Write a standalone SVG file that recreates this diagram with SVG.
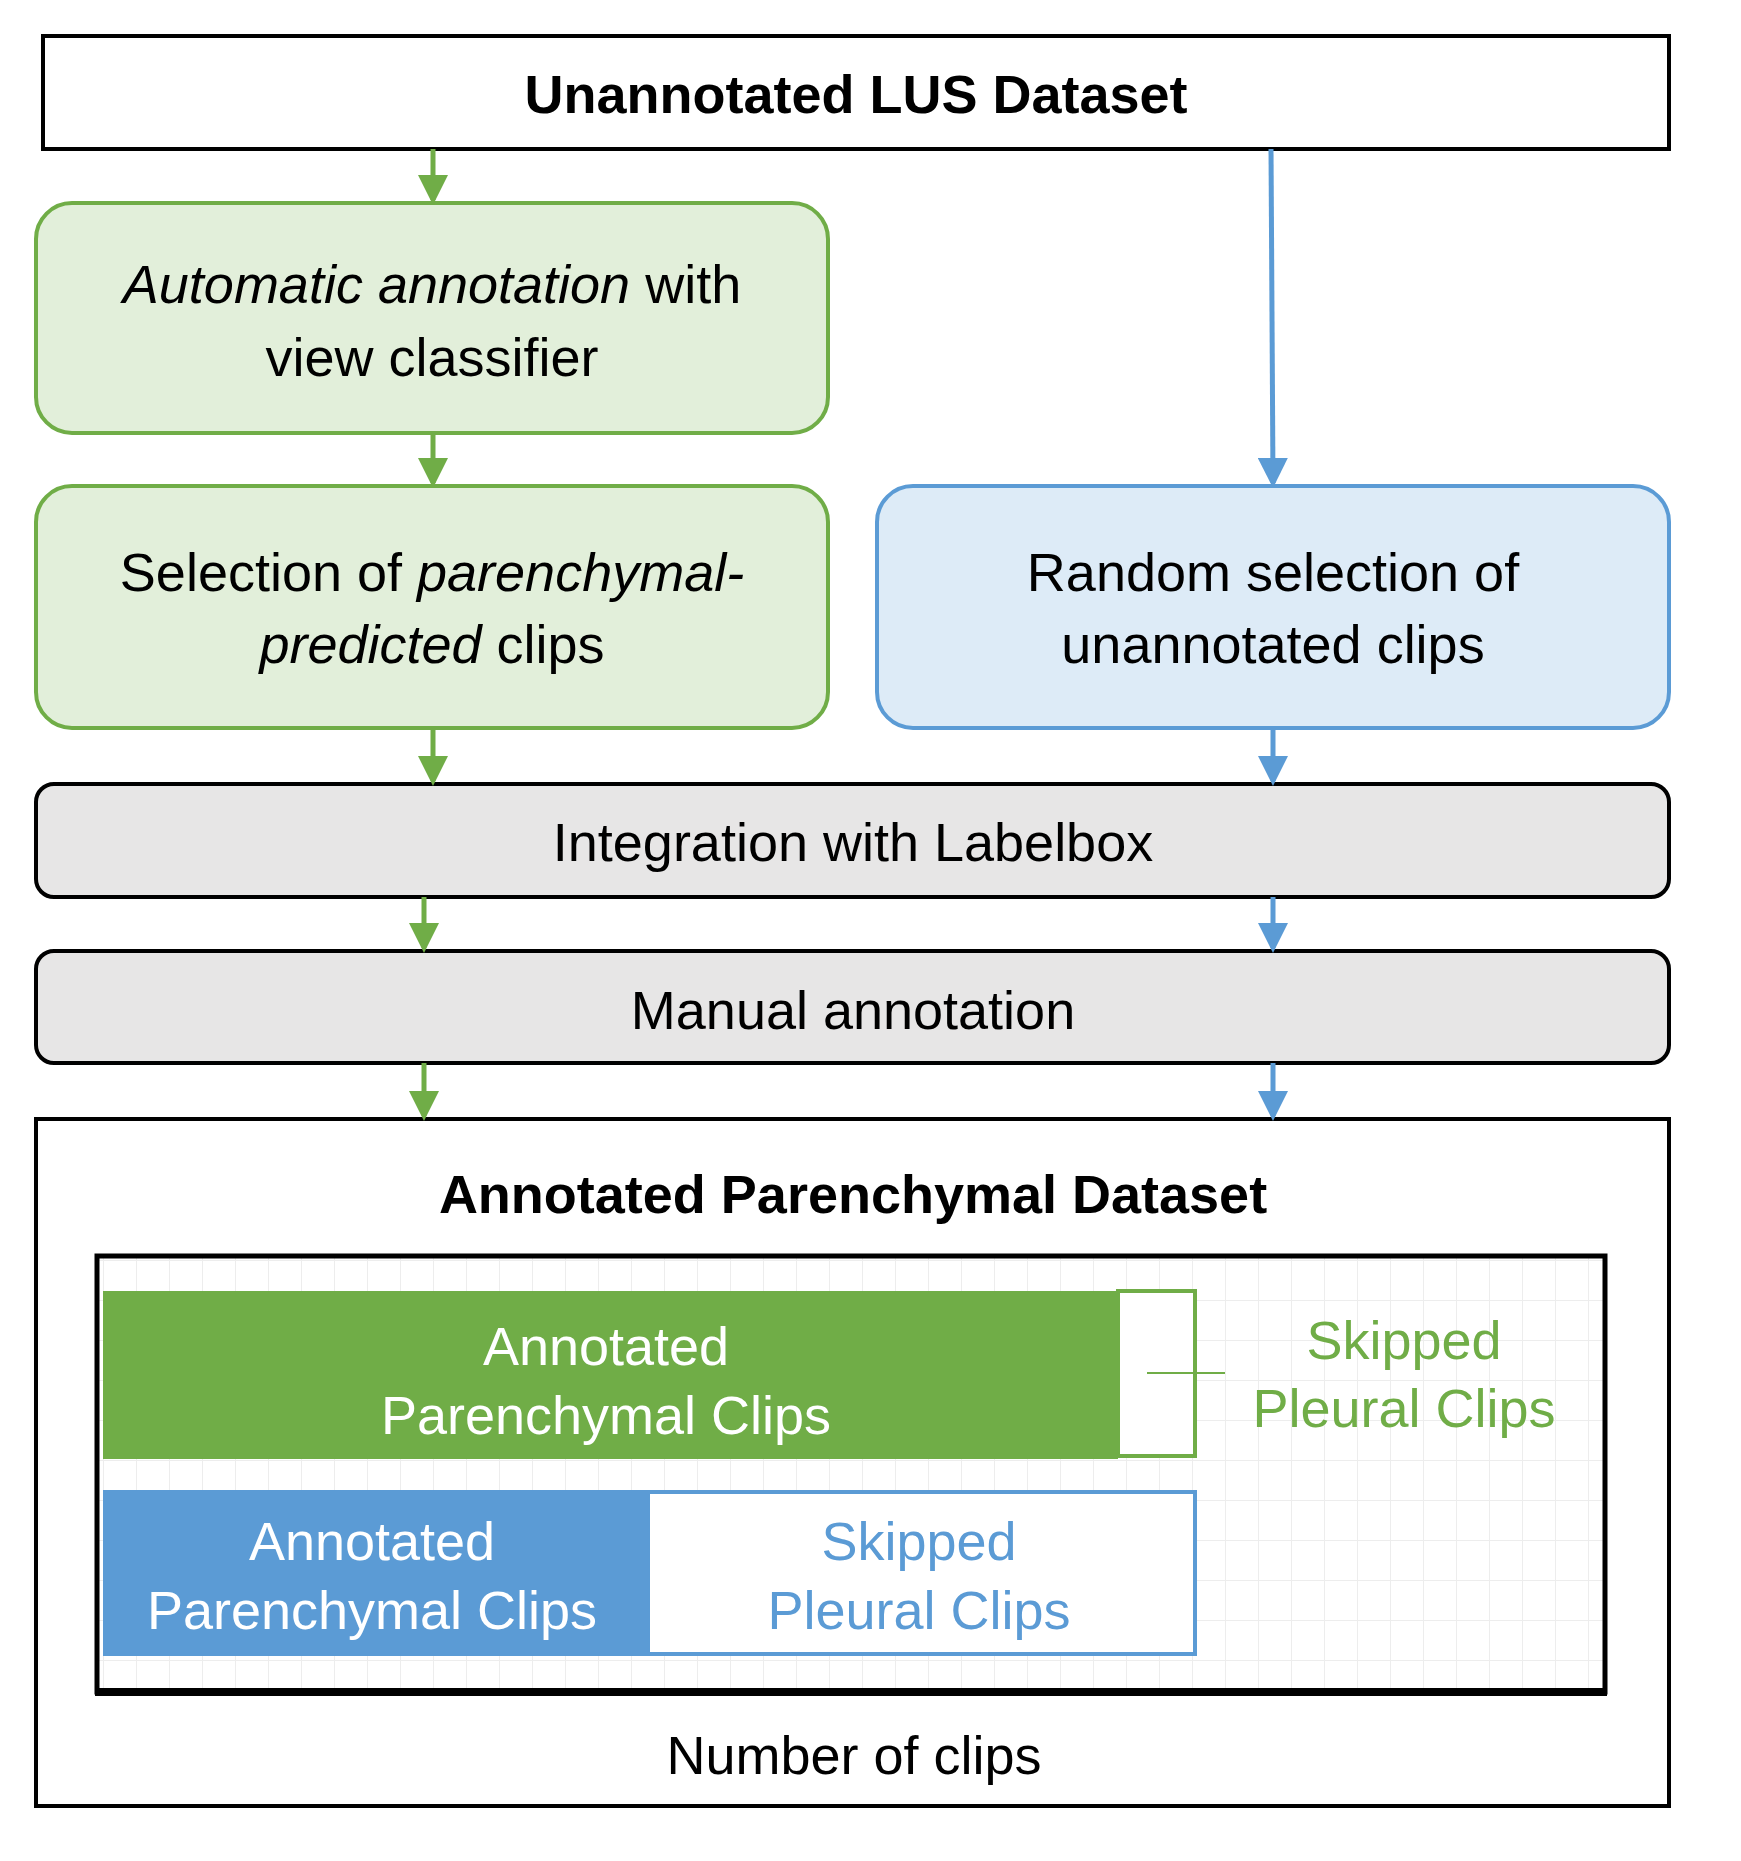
<svg xmlns="http://www.w3.org/2000/svg" width="1741" height="1861" viewBox="0 0 1741 1861">
<defs>
<style>
text{font-family:"Liberation Sans",Arial,sans-serif;font-size:54px;text-anchor:middle;fill:#000}
.b{font-weight:bold}
.w{fill:#fff}
.g{fill:#70AD47}
.bl{fill:#5B9BD5}
.ga{stroke:#70AD47;stroke-width:5;fill:none}
.ba{stroke:#5B9BD5;stroke-width:5;fill:none}
.grid{stroke:#EDEDED;stroke-width:2}
</style>
<marker id="ag" markerWidth="6" markerHeight="6" refX="5" refY="3" orient="auto" markerUnits="strokeWidth"><path d="M0,0 L6,3 L0,6 z" fill="#70AD47"/></marker>
<marker id="ab" markerWidth="6" markerHeight="6" refX="5" refY="3" orient="auto" markerUnits="strokeWidth"><path d="M0,0 L6,3 L0,6 z" fill="#5B9BD5"/></marker>
<pattern id="gp" width="33" height="40" patternUnits="userSpaceOnUse" x="103" y="1260"><path d="M0 0V40M0 0H33" class="grid"/></pattern>
</defs>
<rect width="1741" height="1861" fill="#fff"/>
<g id="n1"><rect x="43" y="36" width="1626" height="113" fill="#fff" stroke="#000" stroke-width="4"/><text x="856" y="113" class="b">Unannotated LUS Dataset</text></g>
<g id="n2"><rect x="36" y="203" width="792" height="230" rx="36" fill="#E2EFDA" stroke="#70AD47" stroke-width="4"/><text x="432" y="303"><tspan font-style="italic">Automatic annotation</tspan> with</text><text x="432" y="376">view classifier</text></g>
<g id="n3"><rect x="36" y="486" width="792" height="242" rx="36" fill="#E2EFDA" stroke="#70AD47" stroke-width="4"/><text x="432" y="591">Selection of <tspan font-style="italic">parenchymal-</tspan></text><text x="432" y="663"><tspan font-style="italic">predicted</tspan> clips</text></g>
<g id="n4"><rect x="877" y="486" width="792" height="242" rx="36" fill="#DDEBF7" stroke="#5B9BD5" stroke-width="4"/><text x="1273" y="591">Random selection of</text><text x="1273" y="663">unannotated clips</text></g>
<g id="n5"><rect x="36" y="784" width="1633" height="113" rx="18" fill="#E7E6E6" stroke="#000" stroke-width="4"/><text x="853" y="861">Integration with Labelbox</text></g>
<g id="n6"><rect x="36" y="951" width="1633" height="112" rx="18" fill="#E7E6E6" stroke="#000" stroke-width="4"/><text x="853" y="1029">Manual annotation</text></g>
<g id="n7"><rect x="36" y="1119" width="1633" height="687" fill="#fff" stroke="#000" stroke-width="4"/><text x="853" y="1213" class="b">Annotated Parenchymal Dataset</text>
<rect x="97" y="1256" width="1508" height="436" fill="url(#gp)" stroke="#000" stroke-width="5"/>
<line x1="95" y1="1692" x2="1607" y2="1692" stroke="#000" stroke-width="8"/>
<rect x="103" y="1291" width="1015" height="168" fill="#70AD47"/>
<rect x="1118" y="1291" width="77" height="165" fill="#fff" stroke="#70AD47" stroke-width="4"/>
<line x1="1147" y1="1373" x2="1225" y2="1373" stroke="#70AD47" stroke-width="2"/>
<text x="606" y="1365" class="w">Annotated</text><text x="606" y="1434" class="w">Parenchymal Clips</text>
<text x="1404" y="1359" class="g">Skipped</text><text x="1404" y="1427" class="g">Pleural Clips</text>
<rect x="103" y="1490" width="545" height="166" fill="#5B9BD5"/>
<rect x="648" y="1492" width="547" height="162" fill="#fff" stroke="#5B9BD5" stroke-width="4"/>
<text x="372" y="1560" class="w">Annotated</text><text x="372" y="1629" class="w">Parenchymal Clips</text>
<text x="919" y="1560" class="bl">Skipped</text><text x="919" y="1629" class="bl">Pleural Clips</text>
<text x="854" y="1774">Number of clips</text></g>
<g id="connectors">
<line x1="433" y1="149" x2="433" y2="200" class="ga" marker-end="url(#ag)"/>
<line x1="433" y1="433" x2="433" y2="483" class="ga" marker-end="url(#ag)"/>
<line x1="433" y1="728" x2="433" y2="781" class="ga" marker-end="url(#ag)"/>
<line x1="424" y1="897" x2="424" y2="948" class="ga" marker-end="url(#ag)"/>
<line x1="424" y1="1063" x2="424" y2="1116" class="ga" marker-end="url(#ag)"/>
<line x1="1271" y1="149" x2="1273" y2="483" class="ba" marker-end="url(#ab)"/>
<line x1="1273" y1="728" x2="1273" y2="781" class="ba" marker-end="url(#ab)"/>
<line x1="1273" y1="897" x2="1273" y2="948" class="ba" marker-end="url(#ab)"/>
<line x1="1273" y1="1063" x2="1273" y2="1116" class="ba" marker-end="url(#ab)"/>
</g>
</svg>
